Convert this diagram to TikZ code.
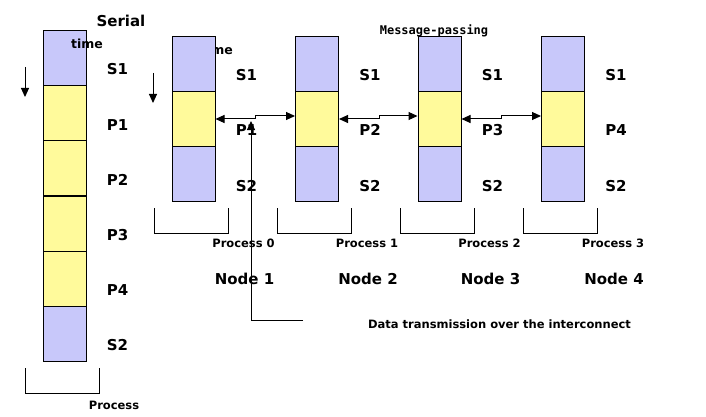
\documentclass[tikz,border=0pt]{standalone}
\usepackage{fontspec}
\setmainfont{DejaVu Sans}
\newfontfamily\msgfont{DejaVu Sans Mono}
\usepackage{xcolor}
\usetikzlibrary{arrows.meta, positioning, calc}

\definecolor{serblue}{RGB}{200,200,250}
\definecolor{paryellow}{RGB}{255,250,155}

\begin{document}
\begin{tikzpicture}[x=1pt, y=-1pt,
    seg/.style={draw, line width=1pt, minimum width=43pt, minimum height=55.33pt, inner sep=0pt},
    sseg/.style={seg, fill=serblue},
    pseg/.style={seg, fill=paryellow},
    lbl/.style={font=\fontsize{15}{18}\selectfont\bfseries, inner sep=0pt},
    small/.style={font=\fontsize{11.5}{14}\selectfont\bfseries, inner sep=0pt},
    tlbl/.style={font=\fontsize{12.5}{15}\selectfont\bfseries, inner sep=0pt},
    tip/.style={-{Triangle[length=9pt, width=8pt]}, line width=1pt}]
    \useasboundingbox (0,0) rectangle (706,417);

    % serial run
    \node[lbl] (serial) at (121,21) {Serial};
    \node[sseg] (ss1) at (64.5,57.7) {};
    \node[pseg] (sp1) at (64.5,113) {};
    \node[pseg] (sp2) at (64.5,168.3) {};
    \node[pseg] (sp3) at (64.5,223.7) {};
    \node[pseg] (sp4) at (64.5,279) {};
    \node[sseg] (ss2) at (64.5,334.3) {};
    \node[tlbl] (stime) at (87,44) {time};
    \foreach \lab/\yy in {S1/69, P1/125, P2/180, P3/235, P4/290, S2/345}
        \node[lbl] (ser\lab) at (117.5,\yy) {\lab};
    \coordinate (sdown0) at (25,67);
    \coordinate (sdown1) at (25,97);
    \draw[tip] (sdown0) -- (sdown1);
    \draw[line width=1pt] (25,368) |- (99,393) -- (99,368);
    \node[small] (sproc) at (114,405) {Process};

    % message passing run
    \node[tlbl] (ptime) at (217,50) {time};
    \node[font=\fontsize{12}{14}\selectfont\msgfont\bfseries, inner sep=0pt] (msg) at (434,31) {Message-passing};
    \foreach \i/\xx/\pl in {1/193.5/P1, 2/317/P2, 3/439.5/P3, 4/563/P4} {
        \node[sseg] (a\i) at (\xx,63.7) {};
        \node[pseg] (b\i) at (\xx,119) {};
        \node[sseg] (c\i) at (\xx,174.3) {};
        \node[lbl] (ls\i) at (\xx+53,75) {S1};
        \node[lbl] (lp\i) at (\xx+53,130) {\pl};
        \node[lbl] (lt\i) at (\xx+53,186) {S2};
        \draw[line width=1pt] (\xx-39.5,208) |- (\xx+34.5,233) -- (\xx+34.5,208);
        \node[lbl] (node\i) at (\xx+51,279) {Node \i};
    }
    \foreach \i/\k in {1/0, 2/1, 3/2, 4/3}
        \node[small] (proc\k) at ($(a\i)+(50,179.3)$) {Process \k};
    \coordinate (pdown0) at (153,73);
    \coordinate (pdown1) at (153,103);
    \draw[tip] (pdown0) -- (pdown1);

    % data exchange between neighbours
    \foreach \i/\j in {1/2, 2/3, 3/4}
        \draw[{Triangle[length=9pt, width=8pt]}-{Triangle[length=9pt, width=8pt]}, line width=1pt]
            (b\i.east) -- ++(40,0) |- ([yshift=3pt]b\j.west);

    \node[small] (data) at (499.5,324) {Data transmission over the interconnect};
    \coordinate (dfoot) at (303,320);
    \coordinate (dtip) at (251,121);
    \draw[tip] (dfoot) -| (dtip);
\end{tikzpicture}
\end{document}
